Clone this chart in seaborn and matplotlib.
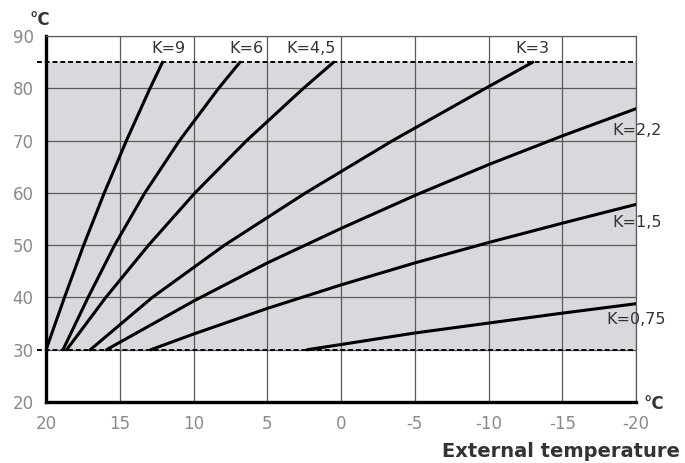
import pandas as pd
import numpy as np
import matplotlib
matplotlib.use("Agg")
import matplotlib.pyplot as plt
import seaborn as sns

# heating curves: external temperature (x) vs flow temperature (y)
k_labels = ["K=9", "K=6", "K=4,5", "K=3", "K=2,2", "K=1,5", "K=0,75"]

k9_ext = [20, 18.75, 17.45, 16.05, 14.55, 12.95, 12.1]
k9_flow = [30, 40, 50, 60, 70, 80, 85]
k6_ext = [18.85, 17.15, 15.35, 13.3, 10.95, 8.3, 6.85]
k6_flow = [30, 40, 50, 60, 70, 80, 85]
k45_ext = [18.6, 15.95, 13.05, 9.9, 6.4, 2.55, 0.5]
k45_flow = [30, 40, 50, 60, 70, 80, 85]
k3_ext = [17.0, 12.8, 7.9, 2.4, -3.5, -9.8, -13.0]
k3_flow = [30, 40, 50, 60, 70, 80, 85]
k22_ext = [15.9, 10, 5, 0, -5, -10, -15, -20]
k22_flow = [30, 39.3, 46.6, 53.2, 59.5, 65.4, 70.9, 76.1]
k15_ext = [12.9, 10, 5, 0, -5, -10, -15, -20]
k15_flow = [30, 33.0, 37.9, 42.4, 46.6, 50.5, 54.2, 57.8]
k075_ext = [2.3, 0, -5, -10, -15, -20]
k075_flow = [30, 31.0, 33.2, 35.1, 37.0, 38.8]

x_ticks = [20, 15, 10, 5, 0, -5, -10, -15, -20]
y_ticks = [20, 30, 40, 50, 60, 70, 80, 90]
band_low, band_high = 30, 85

ext_all = [k9_ext, k6_ext, k45_ext, k3_ext, k22_ext, k15_ext, k075_ext]
flow_all = [k9_flow, k6_flow, k45_flow, k3_flow, k22_flow, k15_flow, k075_flow]
rows = []
for lab, xs, ys in zip(k_labels, ext_all, flow_all):
    for a, b in zip(xs, ys):
        rows.append({"curve": lab, "ext": a, "flow": b})
df = pd.DataFrame(rows)

sns.set_style("white")
plt.rcParams['font.family'] = ['DejaVu Sans']
plt.rcParams['axes.unicode_minus'] = False

fig = plt.figure(figsize=(6.85, 4.63), dpi=100)
ax = fig.add_axes([0.0672, 0.1317, 0.8613, 0.7905])

ax.axhspan(band_low, band_high, color="#d8d9dc", zorder=0.2, lw=0)
ax.set_axisbelow(True)
ax.grid(True, color="#5a5a5a", lw=0.9)

sns.lineplot(data=df, x="ext", y="flow", units="curve", estimator=None,
             color="black", lw=2.2, sort=False, ax=ax, zorder=3)

for yv in [band_low, band_high]:
    ax.axhline(yv, xmin=-0.015, xmax=1.0, color="black", lw=1.4,
               ls=(0, (2.5, 1.5)), clip_on=False, zorder=2.5)

ax.set_xlim(20, -20)
ax.set_ylim(20, 90)
ax.set_xticks(x_ticks)
ax.set_yticks(y_ticks)
ax.set_xticklabels([str(t) for t in x_ticks])
ax.set_xlabel("")
ax.set_ylabel("")
ax.tick_params(axis="both", colors="black", labelcolor="#8a8a8a",
               labelsize=12, width=2, length=5, direction="out")
ax.tick_params(axis="x", pad=4)
ax.tick_params(axis="y", pad=4)

for s in ["left", "bottom"]:
    ax.spines[s].set_linewidth(2.4)
    ax.spines[s].set_color("black")
for s in ["top", "right"]:
    ax.spines[s].set_linewidth(0.9)
    ax.spines[s].set_color("#5a5a5a")

# curve labels
lab_pos = {"K=9": (11.7, 87.6, "center"), "K=6": (6.4, 87.6, "center"),
           "K=4,5": (2.0, 87.6, "center"), "K=3": (-13.0, 87.6, "center"),
           "K=2,2": (-18.4, 72.0, "left"), "K=1,5": (-18.4, 54.4, "left"),
           "K=0,75": (-18.0, 35.8, "left")}
for lab in k_labels:
    px, py, ha = lab_pos[lab]
    ax.text(px, py, lab, ha=ha, va="center", fontsize=11.5, color="#333333",
            clip_on=False, zorder=4)

ax.text(-0.01, 1.045, "°C", transform=ax.transAxes, ha="center", va="center",
        fontsize=12, fontweight="bold", color="#333333")
ax.text(1.03, -0.005, "°C", transform=ax.transAxes, ha="center", va="center",
        fontsize=12, fontweight="bold", color="#333333")
fig.text(0.993, 0.024, "External temperature", ha="right", va="center",
         fontsize=14, fontweight="bold", color="#333333")

fig.savefig("out.png", dpi=100)
